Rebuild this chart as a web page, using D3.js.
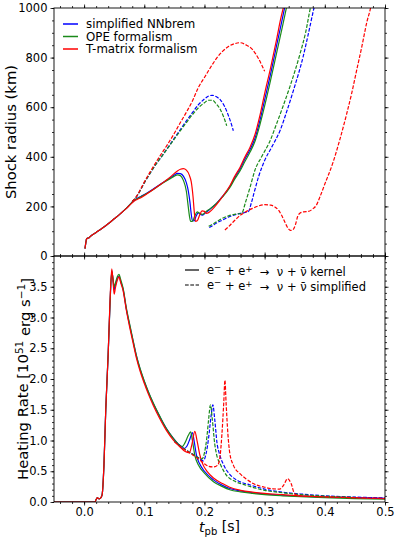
<!DOCTYPE html>
<html><head><meta charset="utf-8">
<script src="https://cdn.jsdelivr.net/npm/d3@7"></script>
<style>
body{margin:0;background:#fff}
svg{display:block}
text{font-family:"DejaVu Sans",sans-serif;fill:#000}
</style>
</head><body>
<svg id="c" width="399" height="540"></svg>
<script>
// ---------- data: shock radius (km) vs t_pb (s) ----------
const seriesNames = ["simplified NNbrem", "OPE formalism", "T-matrix formalism"];
const seriesColors = ["#0000ff", "#1a8a1a", "#ff0000"];
const xTicks = [0.0, 0.1, 0.2, 0.3, 0.4, 0.5];
const radiusTicks = [0, 200, 400, 600, 800, 1000];
const heatTicks = [0.0, 0.5, 1.0, 1.5, 2.0, 2.5, 3.0, 3.5];

const radSolidBlue = [[0.0015,30],[0.003,55],[0.004,68],[0.006,72],[0.008,73],[0.01,78],[0.02,95],[0.03,112],[0.04,130],[0.05,150],[0.06,170],[0.07,192],[0.078,212],[0.083,225],[0.088,232],[0.095,241],[0.104,253],[0.115,270],[0.126,288],[0.135,302],[0.143,315],[0.15,327],[0.155,333],[0.16,332],[0.165,322],[0.17,295],[0.173,265],[0.176,215],[0.178,170],[0.18,143],[0.183,142],[0.186,160],[0.19,175],[0.193,168],[0.197,165],[0.202,175],[0.21,190],[0.22,212],[0.23,240],[0.242,279],[0.25,315],[0.259,350],[0.267,390],[0.276,430],[0.284,475],[0.292,545],[0.3,630],[0.31,735],[0.32,850],[0.328,940],[0.334,1010]];
const radSolidGreen = [[0.0015,30],[0.003,55],[0.004,68],[0.006,72],[0.008,73],[0.01,78],[0.02,95],[0.03,112],[0.04,130],[0.05,150],[0.06,170],[0.07,192],[0.078,212],[0.083,225],[0.088,231],[0.095,240],[0.104,252],[0.115,268],[0.126,286],[0.135,300],[0.143,312],[0.15,322],[0.155,327],[0.16,324],[0.165,305],[0.17,260],[0.173,200],[0.175,162],[0.177,140],[0.18,140],[0.184,162],[0.188,178],[0.192,172],[0.197,168],[0.202,178],[0.21,192],[0.22,212],[0.23,238],[0.242,275],[0.25,309],[0.259,343],[0.267,380],[0.276,420],[0.284,463],[0.292,528],[0.3,605],[0.31,710],[0.32,820],[0.33,930],[0.337,1010]];
const radSolidRed = [[0.0015,30],[0.003,55],[0.004,68],[0.006,72],[0.008,73],[0.01,78],[0.02,95],[0.03,112],[0.04,130],[0.05,150],[0.06,170],[0.07,191],[0.078,210],[0.083,221],[0.088,228],[0.095,236],[0.104,250],[0.115,268],[0.126,287],[0.135,303],[0.143,318],[0.15,333],[0.155,343],[0.16,350],[0.165,352],[0.17,346],[0.175,325],[0.178,300],[0.181,240],[0.183,180],[0.185,140],[0.188,142],[0.192,165],[0.196,182],[0.2,180],[0.203,172],[0.207,175],[0.212,185],[0.22,207],[0.23,240],[0.242,282],[0.25,320],[0.259,357],[0.267,398],[0.276,440],[0.284,490],[0.292,565],[0.3,655],[0.31,760],[0.32,875],[0.327,960],[0.332,1010]];

const radDashUpBlue = [[0.08,220],[0.085,232],[0.09,250],[0.1,295],[0.11,335],[0.12,372],[0.13,405],[0.14,440],[0.15,475],[0.16,510],[0.17,545],[0.18,578],[0.19,610],[0.2,633],[0.207,645],[0.213,648],[0.22,642],[0.227,628],[0.233,605],[0.24,565],[0.245,530],[0.248,505]];
const radDashUpGreen = [[0.08,220],[0.085,232],[0.09,250],[0.1,295],[0.11,335],[0.12,372],[0.13,405],[0.14,438],[0.15,472],[0.16,505],[0.17,538],[0.18,570],[0.19,598],[0.2,618],[0.207,628],[0.213,628],[0.22,612],[0.227,588],[0.232,560],[0.237,525]];
const radDashUpRed = [[0.08,220],[0.085,232],[0.09,252],[0.1,298],[0.11,340],[0.12,380],[0.13,418],[0.14,455],[0.15,495],[0.16,538],[0.17,580],[0.18,625],[0.19,680],[0.2,720],[0.21,760],[0.22,797],[0.23,825],[0.24,845],[0.25,856],[0.259,860],[0.27,850],[0.28,832],[0.29,795],[0.3,745]];

const radDashLowBlue = [[0.208,115],[0.212,120],[0.22,133],[0.23,145],[0.24,157],[0.25,166],[0.26,172],[0.273,179],[0.278,215],[0.283,260],[0.29,320],[0.3,385],[0.312,440],[0.326,508],[0.337,585],[0.348,669],[0.364,804],[0.373,900],[0.382,1000],[0.386,1040]];
const radDashLowGreen = [[0.207,120],[0.212,126],[0.22,138],[0.23,152],[0.24,162],[0.25,168],[0.262,172],[0.268,215],[0.276,279],[0.284,347],[0.295,400],[0.31,470],[0.318,521],[0.33,600],[0.342,683],[0.359,817],[0.368,900],[0.376,1000],[0.38,1040]];
const radDashLowRed = [[0.234,105],[0.24,118],[0.248,138],[0.26,165],[0.27,180],[0.28,192],[0.29,202],[0.3,207],[0.31,205],[0.317,198],[0.323,185],[0.328,165],[0.333,140],[0.338,115],[0.343,103],[0.347,106],[0.351,125],[0.355,160],[0.359,173],[0.365,178],[0.373,180],[0.38,190],[0.386,205],[0.392,239],[0.4,290],[0.414,380],[0.425,470],[0.436,570],[0.445,660],[0.453,750],[0.462,850],[0.47,945],[0.476,1000],[0.479,1040]];

// ---------- data: heating rate (10^51 erg/s) vs t_pb (s) ----------
const heatSolidBlue = [[-0.05,0],[0.018,0],[0.02,0.04],[0.022,0.07],[0.025,0.05],[0.028,0.07],[0.03,0.12],[0.033,0.6],[0.036,1.5],[0.04,2.4],[0.043,3.2],[0.046,3.76],[0.048,3.62],[0.05,3.45],[0.052,3.52],[0.055,3.63],[0.058,3.67],[0.061,3.58],[0.065,3.45],[0.07,3.15],[0.076,2.86],[0.082,2.59],[0.087,2.37],[0.093,2.16],[0.1,1.96],[0.107,1.78],[0.115,1.6],[0.125,1.4],[0.137,1.19],[0.148,1.04],[0.16,0.91],[0.166,0.87],[0.171,0.91],[0.176,1.03],[0.18,1.13],[0.183,0.98],[0.187,0.75],[0.192,0.62],[0.2,0.5],[0.215,0.36],[0.23,0.27],[0.242,0.22],[0.26,0.18],[0.28,0.15],[0.3,0.13],[0.33,0.11],[0.36,0.095],[0.4,0.08],[0.45,0.07],[0.5,0.058]];
const heatSolidGreen = [[-0.05,0],[0.018,0],[0.02,0.04],[0.022,0.07],[0.025,0.05],[0.028,0.07],[0.03,0.12],[0.033,0.6],[0.036,1.5],[0.04,2.4],[0.043,3.2],[0.046,3.74],[0.048,3.64],[0.05,3.5],[0.052,3.56],[0.055,3.66],[0.058,3.7],[0.061,3.61],[0.065,3.47],[0.07,3.17],[0.076,2.88],[0.082,2.6],[0.087,2.38],[0.093,2.17],[0.1,1.97],[0.107,1.79],[0.115,1.61],[0.125,1.41],[0.137,1.19],[0.148,1.04],[0.158,0.93],[0.163,0.9],[0.168,0.97],[0.173,1.08],[0.177,1.14],[0.18,1.0],[0.184,0.76],[0.19,0.6],[0.2,0.47],[0.215,0.33],[0.23,0.25],[0.242,0.2],[0.26,0.165],[0.28,0.14],[0.3,0.12],[0.33,0.1],[0.36,0.085],[0.4,0.07],[0.45,0.055],[0.5,0.045]];
const heatSolidRed = [[-0.05,0],[0.018,0],[0.02,0.04],[0.022,0.07],[0.025,0.05],[0.028,0.07],[0.03,0.12],[0.033,0.6],[0.036,1.5],[0.04,2.4],[0.043,3.25],[0.046,3.79],[0.048,3.6],[0.05,3.38],[0.052,3.48],[0.055,3.6],[0.058,3.66],[0.061,3.56],[0.065,3.43],[0.07,3.13],[0.076,2.83],[0.082,2.56],[0.087,2.34],[0.093,2.13],[0.1,1.93],[0.107,1.75],[0.115,1.57],[0.125,1.37],[0.137,1.16],[0.148,1.01],[0.16,0.89],[0.168,0.82],[0.175,0.8],[0.179,0.93],[0.184,1.15],[0.188,0.98],[0.192,0.78],[0.197,0.62],[0.205,0.49],[0.215,0.39],[0.23,0.3],[0.242,0.24],[0.26,0.19],[0.28,0.16],[0.3,0.14],[0.33,0.12],[0.36,0.1],[0.4,0.085],[0.45,0.07],[0.5,0.055]];

const heatDashBlue = [[0.15,0.99],[0.16,0.91],[0.17,0.84],[0.18,0.78],[0.19,0.72],[0.198,0.67],[0.203,0.8],[0.207,1.05],[0.211,1.4],[0.214,1.58],[0.217,1.35],[0.221,0.95],[0.225,0.78],[0.232,0.6],[0.242,0.45],[0.255,0.35],[0.275,0.28],[0.3,0.21],[0.33,0.16],[0.36,0.13],[0.4,0.1],[0.45,0.08],[0.5,0.065]];
const heatDashGreen = [[0.15,0.99],[0.16,0.91],[0.17,0.84],[0.18,0.78],[0.19,0.72],[0.196,0.7],[0.2,0.8],[0.204,1.05],[0.207,1.35],[0.21,1.58],[0.213,1.35],[0.217,0.95],[0.22,0.78],[0.227,0.6],[0.237,0.43],[0.25,0.34],[0.27,0.27],[0.3,0.19],[0.33,0.15],[0.36,0.12],[0.4,0.095],[0.45,0.075]];
const heatDashRed = [[0.15,0.98],[0.16,0.9],[0.17,0.83],[0.18,0.77],[0.19,0.7],[0.2,0.62],[0.207,0.58],[0.215,0.57],[0.222,0.6],[0.226,0.75],[0.229,1.1],[0.232,1.6],[0.234,1.98],[0.236,1.6],[0.239,1.1],[0.242,0.8],[0.248,0.6],[0.259,0.46],[0.27,0.37],[0.281,0.3],[0.3,0.24],[0.314,0.215],[0.325,0.21],[0.332,0.28],[0.338,0.38],[0.344,0.3],[0.35,0.13],[0.36,0.1],[0.4,0.085],[0.45,0.07],[0.5,0.06]];

// ---------- layout ----------
const svg = d3.select("#c");
const L = 54, R = 385, T1 = 8, B1 = 256, T2 = 256, B2 = 502;
const x = d3.scaleLinear().domain([-0.05, 0.5]).range([L, R]);
const yR = d3.scaleLinear().domain([0, 1000]).range([B1, T1]);
const yH = d3.scaleLinear().domain([0, 4]).range([B2, T2]);
const FS = 11.5;

const defs = svg.append("defs");
defs.append("clipPath").attr("id","clip1").append("rect").attr("x",L).attr("y",T1).attr("width",R-L).attr("height",B1-T1);
defs.append("clipPath").attr("id","clip2").append("rect").attr("x",L).attr("y",T2).attr("width",R-L).attr("height",B2-T2);

function styleAxis(g, fs){
  g.select(".domain").remove();
  g.selectAll("line").attr("stroke","#000").attr("stroke-width",0.8);
  g.selectAll("text").attr("font-size",fs).attr("font-family","DejaVu Sans").attr("fill","#000");
}
const xMinor = d3.range(-0.04, 0.501, 0.02).map(v=>+v.toFixed(2));
const rMinor = d3.range(0, 1001, 50);
const hMinor = d3.range(0, 4.01, 0.1).map(v=>+v.toFixed(1));

function panelAxes(y, top, bottom, yMajor, yMin, yFmt, xLabels){
  svg.append("g").attr("transform",`translate(0,${bottom})`).call(d3.axisBottom(x).tickValues(xMinor).tickSize(2).tickFormat("")).call(g=>styleAxis(g,FS));
  svg.append("g").attr("transform",`translate(0,${top})`).call(d3.axisTop(x).tickValues(xMinor).tickSize(2).tickFormat("")).call(g=>styleAxis(g,FS));
  svg.append("g").attr("transform",`translate(${L},0)`).call(d3.axisLeft(y).tickValues(yMin).tickSize(2).tickFormat("")).call(g=>styleAxis(g,FS));
  svg.append("g").attr("transform",`translate(${R},0)`).call(d3.axisRight(y).tickValues(yMin).tickSize(2).tickFormat("")).call(g=>styleAxis(g,FS));
  svg.append("g").attr("transform",`translate(0,${bottom})`).call(d3.axisBottom(x).tickValues(xTicks).tickSize(3.5).tickPadding(2.5).tickFormat(xLabels ? d3.format(".1f") : "")).call(g=>styleAxis(g,FS));
  svg.append("g").attr("transform",`translate(0,${top})`).call(d3.axisTop(x).tickValues(xTicks).tickSize(3.5).tickFormat("")).call(g=>styleAxis(g,FS));
  svg.append("g").attr("transform",`translate(${L},0)`).call(d3.axisLeft(y).tickValues(yMajor).tickSize(3.5).tickPadding(3).tickFormat(yFmt)).call(g=>styleAxis(g,FS));
  svg.append("g").attr("transform",`translate(${R},0)`).call(d3.axisRight(y).tickValues(yMajor).tickSize(3.5).tickFormat("")).call(g=>styleAxis(g,FS));
}
panelAxes(yR, T1, B1, radiusTicks, rMinor, d3.format("d"), false);
panelAxes(yH, T2, B2, heatTicks, hMinor, d3.format(".1f"), true);

// curves
const lineR = d3.line().x(d=>x(d[0])).y(d=>yR(d[1])).curve(d3.curveMonotoneX);
const lineH = d3.line().x(d=>x(d[0])).y(d=>yH(d[1])).curve(d3.curveMonotoneX);
const g1 = svg.append("g").attr("clip-path","url(#clip1)");
const g2 = svg.append("g").attr("clip-path","url(#clip2)");
const DASH = "3.7,1.6";
const LW = 1.2;

const topSolid = [radSolidBlue, radSolidGreen, radSolidRed];
const topDashUp = [radDashUpBlue, radDashUpGreen, radDashUpRed];
const topDashLow = [radDashLowBlue, radDashLowGreen, radDashLowRed];
const botSolid = [heatSolidBlue, heatSolidGreen, heatSolidRed];
const botDash = [heatDashBlue, heatDashGreen, heatDashRed];

[0,1,2].forEach(i=>{
  g1.append("path").attr("d", lineR(topSolid[i])).attr("fill","none").attr("stroke",seriesColors[i]).attr("stroke-width",LW);
});
[0,1,2].forEach(i=>{
  g1.append("path").attr("d", lineR(topDashUp[i])).attr("fill","none").attr("stroke",seriesColors[i]).attr("stroke-width",LW).attr("stroke-dasharray",DASH);
  g1.append("path").attr("d", lineR(topDashLow[i])).attr("fill","none").attr("stroke",seriesColors[i]).attr("stroke-width",LW).attr("stroke-dasharray",DASH);
});
[0,1,2].forEach(i=>{
  g2.append("path").attr("d", lineH(botSolid[i])).attr("fill","none").attr("stroke",seriesColors[i]).attr("stroke-width",LW);
});
[0,1,2].forEach(i=>{
  g2.append("path").attr("d", lineH(botDash[i])).attr("fill","none").attr("stroke",seriesColors[i]).attr("stroke-width",LW).attr("stroke-dasharray",DASH);
});

// frames
svg.append("rect").attr("x",L).attr("y",T1).attr("width",R-L).attr("height",B1-T1).attr("fill","none").attr("stroke","#000").attr("stroke-width",0.9);
svg.append("rect").attr("x",L).attr("y",T2).attr("width",R-L).attr("height",B2-T2).attr("fill","none").attr("stroke","#000").attr("stroke-width",0.9);

// legend 1
const leg1Y = [24, 36.5, 49];
seriesNames.forEach((n,i)=>{
  svg.append("line").attr("x1",63).attr("x2",78).attr("y1",leg1Y[i]).attr("y2",leg1Y[i]).attr("stroke",seriesColors[i]).attr("stroke-width",1.5);
  svg.append("text").attr("x",86).attr("y",leg1Y[i]).attr("dy","0.35em").attr("font-size",11.8).text(n);
});

// legend 2
const leg2Y = [270, 285];
const leg2Text = ["kernel", "simplified"];
leg2Y.forEach((yy,i)=>{
  svg.append("line").attr("x1",185).attr("x2",199).attr("y1",yy).attr("y2",yy).attr("stroke","#000").attr("stroke-width",1.2).attr("stroke-dasharray", i ? "3.7,1.6" : null);
  const t = svg.append("text").attr("x",207).attr("y",yy).attr("dy","0.35em").attr("font-size",FS).attr("xml:space","preserve").style("white-space","pre");
  t.append("tspan").text("e");
  t.append("tspan").attr("dy","-0.42em").attr("font-size",FS*0.75).text("\u2212");
  t.append("tspan").attr("dy","0.42em").text(" + e");
  t.append("tspan").attr("dy","-0.42em").attr("font-size",FS*0.75).text("+");
  t.append("tspan").attr("dy","0.42em").text("  \u2192  \u03bd + \u03bd\u0304 " + leg2Text[i]);
});

// axis labels
svg.append("text").attr("transform","translate(16,132) rotate(-90)").attr("text-anchor","middle").attr("font-size",14.8).text("Shock radius (km)");
const hl = svg.append("text").attr("transform","translate(28,379) rotate(-90)").attr("text-anchor","middle").attr("font-size",14.8);
hl.append("tspan").text("Heating Rate [10");
hl.append("tspan").attr("dy","-0.45em").attr("font-size",10.5).text("51");
hl.append("tspan").attr("dy","0.45em").text(" erg s");
hl.append("tspan").attr("dy","-0.45em").attr("font-size",10.5).text("\u22121");
hl.append("tspan").attr("dy","0.45em").text("]");
const xl = svg.append("text").attr("x",219.5).attr("y",532).attr("text-anchor","middle").attr("font-size",14);
xl.append("tspan").attr("font-style","italic").text("t");
xl.append("tspan").attr("dy","0.3em").attr("font-size",10).text("pb");
xl.append("tspan").attr("dy","-0.3em").text(" [s]");
</script>
</body></html>
